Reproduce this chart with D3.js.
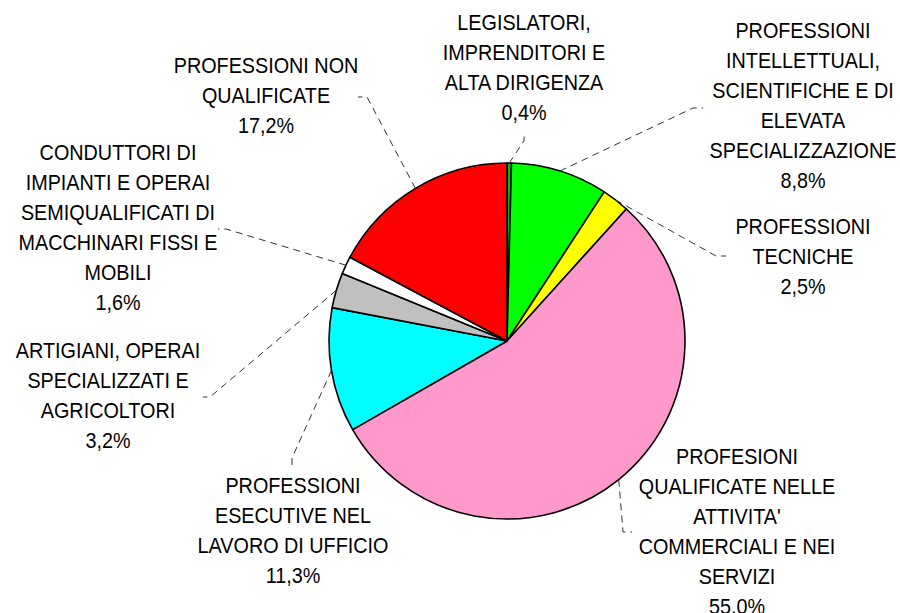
<!DOCTYPE html>
<html>
<head>
<meta charset="utf-8">
<script src="https://cdn.jsdelivr.net/npm/d3@7"></script>
<style>
  body { margin: 0; background: #fff; }
  text { font-family: "Liberation Sans", Arial, sans-serif; font-size: 22px; fill: #000; }
</style>
</head>
<body>
<svg id="chart" width="900" height="613"></svg>
<script>
// data, clockwise from 12 o'clock
var categories = [
  "LEGISLATORI, IMPRENDITORI E ALTA DIRIGENZA",
  "PROFESSIONI INTELLETTUALI, SCIENTIFICHE E DI ELEVATA SPECIALIZZAZIONE",
  "PROFESSIONI TECNICHE",
  "PROFESIONI QUALIFICATE NELLE ATTIVITA' COMMERCIALI E NEI SERVIZI",
  "PROFESSIONI ESECUTIVE NEL LAVORO DI UFFICIO",
  "ARTIGIANI, OPERAI SPECIALIZZATI E AGRICOLTORI",
  "CONDUTTORI DI IMPIANTI E OPERAI SEMIQUALIFICATI DI MACCHINARI FISSI E MOBILI",
  "PROFESSIONI NON QUALIFICATE"
]
var values = [0.4, 8.8, 2.5, 55.0, 11.3, 3.2, 1.6, 17.2]
var labelLines = [
  ["LEGISLATORI,", "IMPRENDITORI E", "ALTA DIRIGENZA"],
  ["PROFESSIONI", "INTELLETTUALI,", "SCIENTIFICHE E DI", "ELEVATA", "SPECIALIZZAZIONE"],
  ["PROFESSIONI", "TECNICHE"],
  ["PROFESIONI", "QUALIFICATE NELLE", "ATTIVITA'", "COMMERCIALI E NEI", "SERVIZI"],
  ["PROFESSIONI", "ESECUTIVE NEL", "LAVORO DI UFFICIO"],
  ["ARTIGIANI, OPERAI", "SPECIALIZZATI E", "AGRICOLTORI"],
  ["CONDUTTORI DI", "IMPIANTI E OPERAI", "SEMIQUALIFICATI DI", "MACCHINARI FISSI E", "MOBILI"],
  ["PROFESSIONI NON", "QUALIFICATE"]
]
var colors = ["#00c000", "#00ff00", "#ffff00", "#ff99cc", "#00ffff", "#c0c0c0", "#ffffff", "#ff0000"]

// layout: label block centre x / first line y, and leader line elbow points
var labelPos = [
  {x: 524, y: 22,  elbow: [[524, 141], [524, 133]]},
  {x: 803, y: 30,  elbow: [[693, 108], [703, 108]]},
  {x: 803, y: 226, elbow: [[716, 256], [726, 256]]},
  {x: 737, y: 456, elbow: [[623, 532], [632, 532]]},
  {x: 293, y: 485, elbow: [[292, 458], [292, 467]]},
  {x: 108, y: 350, elbow: [[210, 397], [203, 397]]},
  {x: 118, y: 152, elbow: [[226, 229], [218, 229]]},
  {x: 266, y: 65,  elbow: [[367, 97], [358, 97]]}
]
var lineH = 30

var svg = d3.select("#chart")
var cx = 507, cy = 341, r = 178

var pie = d3.pie().sort(null).value(function(d){ return d })
var arcs = pie(values)
var arc = d3.arc().innerRadius(0).outerRadius(r)

var g = svg.append("g").attr("transform", "translate(" + cx + "," + cy + ")")

g.selectAll("path.slice")
  .data(arcs)
  .enter().append("path")
  .attr("class", "slice")
  .attr("d", arc)
  .attr("fill", function(d, i){ return colors[i] })
  .attr("stroke", "#000")
  .attr("stroke-width", 1.6)
  .attr("stroke-linejoin", "round")

// leader lines from slice edge to label
var fmt = function(v){ return v.toFixed(1).replace(".", ",") + "%" }

arcs.forEach(function(d, i) {
  var a = (d.startAngle + d.endAngle) / 2
  var px = cx + Math.sin(a) * r
  var py = cy - Math.cos(a) * r
  var pts = [[px, py]].concat(labelPos[i].elbow)
  svg.append("path")
    .attr("d", d3.line()(pts))
    .attr("fill", "none")
    .attr("stroke", "#333")
    .attr("stroke-width", 1)
    .attr("stroke-dasharray", "7,5")

  // text is a bit narrow and tall in the original, so squeeze it horizontally
  var t = svg.append("text")
    .attr("text-anchor", "middle")
    .attr("transform", "translate(" + labelPos[i].x + "," + labelPos[i].y + ") scale(0.9,1)")
  var lines = labelLines[i].concat([fmt(values[i])])
  lines.forEach(function(s, k) {
    t.append("tspan")
      .attr("x", 0)
      .attr("y", k * lineH)
      .attr("dy", "0.35em")
      .text(s)
  })
})
</script>
</body>
</html>
